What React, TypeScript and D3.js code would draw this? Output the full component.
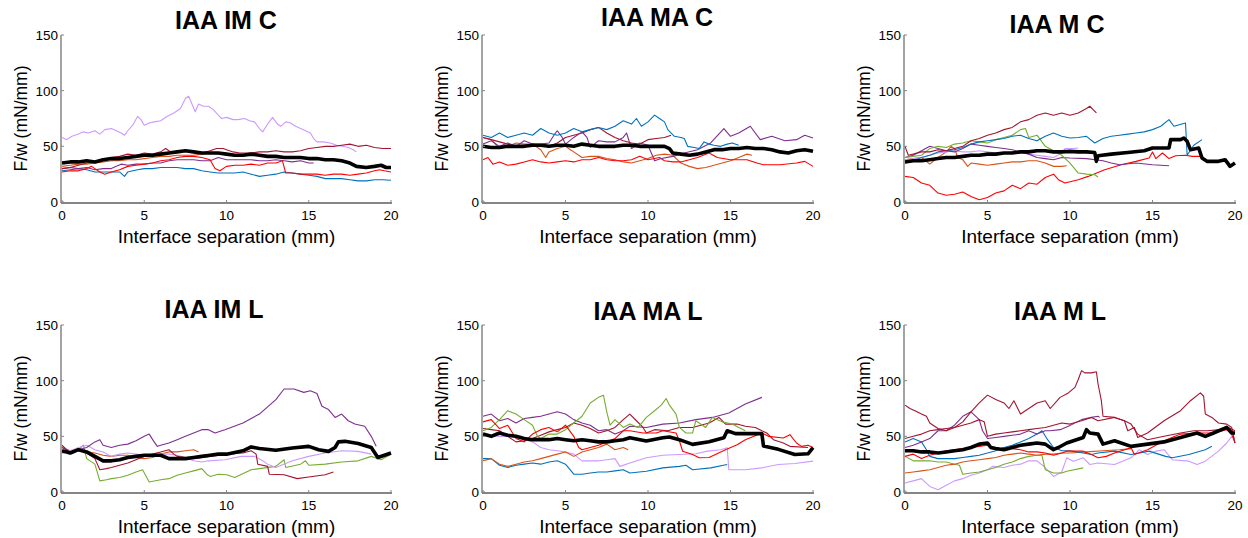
import React from "react";
import * as d3 from "d3";

type Pt = [number, number];

const COLORS: Record<string, string> = {
  blue: "#0072BD",
  orange: "#D95319",
  purple: "#7E2F8E",
  green: "#77AC30",
  darkred: "#A2142F",
  red: "#FF0000",
  violet: "#CC99FF",
};

const xTicks = [0, 5, 10, 15, 20];
const yTicks = [0, 50, 100, 150];
const titles = ["IAA IM C", "IAA MA C", "IAA M C", "IAA IM L", "IAA MA L", "IAA M L"];

// ---- IAA IM C
const imC_violet: Pt[] = [[0,58],[0.3,56],[0.6,59],[1,61],[1.3,63],[1.6,62],[2,64],[2.3,61],[2.6,65],[3,66],[3.3,64],[3.6,62],[3.8,60],[4,64],[4.3,69],[4.6,77],[4.8,74],[5,69],[5.3,71],[5.6,72],[6,73],[6.4,77],[6.8,80],[7.2,84],[7.5,93],[7.7,95],[7.9,88],[8.1,81],[8.3,88],[8.6,86],[8.9,86],[9.2,83],[9.5,78],[9.7,75],[10,76],[10.4,74],[10.7,74],[11.1,75],[11.4,73],[11.7,72],[12,66],[12.2,63],[12.5,70],[12.8,76],[13.1,70],[13.3,68],[13.6,72],[13.9,71],[14.2,68],[14.5,66],[14.8,64],[15.1,62],[15.3,57],[15.5,54],[15.9,54],[16.3,53],[16.7,51],[17.1,50],[17.4,49],[17.7,47],[17.9,45]];
const imC_darkred: Pt[] = [[0,30],[0.5,31],[1,33],[1.5,35],[2,36],[2.5,38],[3,40],[3.5,41],[4,43],[4.5,42],[5,44],[5.5,43],[6,45],[6.3,48],[6.5,46],[6.8,44],[7,45],[7.5,46],[8,45],[8.5,44],[9,46],[9.4,48],[9.8,48],[10,47],[10.4,45],[10.8,44],[11.5,44],[12,45],[12.5,45],[13,46],[13.5,45],[14,45],[14.5,46],[15,48],[15.5,49],[16,50],[16.5,50],[17,51],[17.5,52],[18,50],[18.5,51],[19,49],[19.5,48],[20,48]];
const imC_purple: Pt[] = [[0,30],[0.5,31],[1,30],[1.5,31],[2,29],[2.5,30],[3,30],[3.3,32],[3.6,34],[4,33],[4.5,34],[5,34],[5.5,35],[6,35],[6.5,37],[7,38],[7.5,38],[8,38],[8.5,37],[9,37],[9.5,40],[10,38],[10.5,38],[11,38],[11.5,38],[12,37],[12.5,37],[13,38],[13.5,37],[14,36],[14.5,37],[15,35],[15.3,35]];
const imC_orange: Pt[] = [[0,32],[0.5,33],[1,34],[1.5,34],[2,35],[2.5,36],[3,37],[3.5,37],[4,38],[4.5,38],[5,39],[5.5,40],[6,41],[6.5,41],[7,42],[7.5,42],[8,42],[8.5,43],[9,44],[9.5,43]];
const imC_red: Pt[] = [[0,27],[0.5,28],[1,28],[1.5,30],[1.8,32],[2,30],[2.3,27],[2.6,25],[3,27],[3.5,29],[4,32],[4.5,33],[5,34],[5.5,35],[6,37],[6.5,38],[7,40],[7.5,41],[8,41],[8.5,40],[9,38],[9.3,30],[9.6,28],[10,32],[10.5,33],[11,33],[11.5,34],[12,33],[12.5,35],[13,35],[13.4,37],[13.6,26],[14,26],[14.5,25],[15,25],[15.5,25],[16,24],[16.5,25],[17,25],[17.5,24],[18,25],[18.5,26],[19,28],[19.3,29],[19.6,28],[20,27]];
const imC_blue: Pt[] = [[0,28],[0.5,29],[1,30],[1.5,29],[2,27],[2.5,27],[3,27],[3.5,27],[3.8,23],[4,27],[4.3,28],[4.6,29],[5,30],[5.5,30],[6,31],[6.5,31],[7,31],[7.5,30],[8,30],[8.5,28],[9,27],[9.5,26],[10,26],[10.5,26],[11,27],[11.5,25],[12,23],[12.5,24],[13,25],[13.5,27],[14,26],[14.5,25],[15,24],[15.5,23],[16,21],[16.5,21],[17,21],[17.5,20],[18,19],[18.5,19],[19,20],[19.5,20],[20,19.5]];
const imC_mean: Pt[] = [[0,35],[0.5,36],[1,36],[1.5,37],[2,36],[2.5,38],[3,39],[3.5,39],[4,40],[4.5,41],[5,42],[5.5,42],[6,43],[6.5,44],[7,45],[7.5,46],[8,45],[8.5,44],[9,44],[9.5,44],[10,43],[10.5,42],[11,42],[11.5,43],[12,42],[12.5,41],[13,41],[13.5,40],[14,40],[14.5,40],[15,39],[15.5,39],[16,38],[16.5,38],[17,37],[17.5,35],[17.9,32],[18.5,31],[19,32],[19.4,33],[19.7,31],[20,31]];

// ---- IAA MA C
const maC_blue: Pt[] = [[0,60],[0.5,58],[1,62],[1.5,58],[2,60],[2.5,62],[3,60],[3.5,66],[4,62],[4.5,60],[5,62],[5.5,66],[6,63],[6.5,65],[7,67],[7.5,65],[8,68],[8.5,73],[9,70],[9.3,75],[9.6,68],[10,72],[10.4,78],[10.7,75],[11,72],[11.2,65],[11.6,59],[12,58],[12.2,57],[12.4,50],[12.8,49],[13.1,48],[13.4,54],[13.7,52],[14,51],[14.4,50],[14.8,52],[15.1,53],[15.5,51]];
const maC_purple: Pt[] = [[0,52],[0.5,55],[1,50],[1.5,53],[2,50],[2.5,55],[3,52],[3.5,52],[4,53],[4.3,60],[4.5,64],[4.8,58],[5,52],[5.5,58],[6,63],[6.3,58],[6.5,49],[7,55],[7.5,54],[8,54],[8.5,58],[8.7,62],[9,48],[9.5,53],[10,51],[10.4,37],[10.8,39],[11.5,41],[12.2,44],[13,47],[13.8,53],[14.6,66],[15,59],[15.5,62],[16.2,68],[16.8,56],[17.5,59],[18.3,55],[19,56],[19.5,60],[20,57.5]];
const maC_darkred: Pt[] = [[0,58],[0.5,56],[1,54],[1.5,52],[2,50],[2.5,51],[3,52],[3.5,51],[4,50],[4.5,53],[5,58],[5.5,60],[6,62],[6.5,65],[7,67],[7.5,62],[8,58],[8.5,55],[9,53],[9.5,52],[10,56],[10.5,57],[11,58],[11.4,60]];
const maC_orange: Pt[] = [[0,58],[0.5,56],[1,48],[1.5,50],[2,53],[2.5,52],[3,52],[3.5,47],[3.8,40],[4,45],[4.5,48],[5,50],[5.3,47],[5.5,45],[6,40],[6.5,41],[7,41],[7.5,39],[8,38],[8.5,36],[9,35],[9.5,37],[10,39],[10.5,42],[11,43],[11.5,42],[12,35],[12.5,32],[13,30],[13.5,31],[14,33],[14.5,35],[15,37],[15.5,40],[16,43],[16.3,42]];
const maC_red: Pt[] = [[0,38],[0.3,40],[0.6,34],[1,36],[1.5,33],[2,34],[2.5,36],[3,38],[3.5,36],[4,35],[4.5,36],[5,37],[5.5,36],[6,38],[6.5,38],[7,40],[7.5,38],[8,37],[8.5,37],[9,38],[9.5,41],[10,38],[10.7,40],[11,37],[11.5,36],[12,36],[12.5,38],[13,40],[13.7,44],[14.2,40],[15,38],[16,38],[16.6,35],[17,33.5],[18,33.5],[19,35],[19.5,36.5],[20,32]];
const maC_mean: Pt[] = [[0,50],[0.5,49],[1,49],[1.5,50],[2,50],[2.5,50],[3,51],[3.5,51],[4,50],[4.5,51],[5,51],[5.5,50],[6,52],[6.5,51],[7,50],[7.5,50],[8,50],[8.5,51],[9,51],[9.5,50],[10,50],[10.5,50],[11,50],[11.3,48],[11.5,44],[12,43],[12.5,42],[13,43],[13.5,45],[14,47],[14.5,47],[15,48],[15.5,48],[16,49],[16.5,48],[17,48],[17.5,47],[18,45],[18.5,44],[19,46],[19.5,47],[20,45.5]];

// ---- IAA M C
const mC_darkred: Pt[] = [[0,50],[0.2,42],[0.5,43],[1,45],[1.5,45],[2,47],[2.5,46],[3,48],[3.5,50],[4,55],[4.5,57],[5,60],[5.5,62],[6,65],[6.5,67],[7,72],[7.5,74],[8,78],[8.5,80],[9,78],[9.5,80],[10,78],[10.5,80],[11,84],[11.2,86],[11.4,83],[11.6,80]];
const mC_blue: Pt[] = [[0,35],[0.5,37],[1,40],[1.5,42],[2,45],[2.5,46],[3,47],[3.5,49],[4,52],[4.5,54],[5,55],[5.5,56],[6,57],[6.5,59],[7,60],[7.5,57],[8,55],[8.5,59],[9,62],[9.5,59],[10,57.5],[10.5,58],[11,59],[11.5,53],[12,57],[12.5,59],[13,60],[13.5,61],[14,62],[14.5,63],[15,65],[15.5,68],[16,74],[16.3,68],[17,71],[17.1,42],[17.5,51],[18,56]];
const mC_green: Pt[] = [[0,40],[0.5,41],[1,42],[1.5,48],[2,50],[2.5,49],[3,52],[3.5,53],[4,55],[4.5,54],[5,53],[5.5,56],[6,58],[6.5,60],[7,65],[7.3,66],[7.5,58],[8,60],[8.5,50],[9,46],[9.5,42],[10,35],[10.5,26],[11,25],[11.5,24.5],[11.7,22.5]];
const mC_purple: Pt[] = [[0,40],[0.5,42],[1,46],[1.5,50],[2,48],[2.5,46],[3,45],[3.5,48],[4,52],[4.5,51],[5,50],[5.5,49],[6,48],[6.5,47],[7,45],[7.5,43],[8,40],[8.5,39],[9,38],[9.5,40],[10,39.5],[11,39],[12,37],[12.5,35],[13,33.5],[14,35],[15,33.5],[16,32.5]];
const mC_violet: Pt[] = [[0,38],[0.5,39],[1,40],[1.5,42],[2,44],[2.5,45],[3,46],[3.5,45],[4,45],[4.5,46],[5,45],[5.5,44],[6,44],[6.5,45],[7,45],[7.5,43],[8,42],[8.5,41],[9,40],[9.5,44],[9.7,48],[10.2,48],[10.5,48.5]];
const mC_orange: Pt[] = [[0,38],[0.5,39],[1,40],[1.5,34],[2,40],[2.5,45],[2.8,50],[3,48],[3.2,40],[3.5,38],[3.8,32],[4,35],[4.5,34],[5,33],[5.5,34],[6,35],[6.5,36],[7,36],[7.5,37],[8,37],[8.5,35],[9,32],[9.5,32],[9.8,32.5]];
const mC_red: Pt[] = [[0,23],[0.5,22],[1,17],[1.5,15],[2,8],[2.5,6],[3,7],[3.5,9],[4,5],[4.5,2],[5,4],[5.5,8],[6,10],[6.5,15],[7,12],[7.5,17],[8,16],[8.5,22],[9,25],[9.3,20],[9.7,17],[10.5,20],[11.1,23],[12.1,29],[13.1,33.5],[14,36.5],[14.8,39.5],[15,45],[15.2,39],[15.6,44],[16,39],[16.4,41.5],[17,42],[17.4,41],[18,41]];
const mC_mean: Pt[] = [[0,36],[0.5,37],[1,37],[1.5,38],[2,39],[2.5,40],[3,40],[3.5,41],[4,42],[4.5,42],[5,43],[5.5,43],[6,44],[6.5,44],[7,45],[7.5,45],[8,46],[8.5,46],[9,45],[9.5,45],[10,45.5],[10.5,45],[11,45],[11.5,44.5],[11.6,36.5],[11.7,41.5],[12.5,43],[13.5,44.5],[14.5,46],[15,48.5],[16,48.5],[16.1,56],[16.7,56],[16.9,57.5],[17.1,54.5],[17.3,47],[17.8,48.5],[18,39.5],[18.3,36.5],[19,36.5],[19.4,38],[19.7,32],[20,35]];

// ---- IAA IM L
const imL_purple: Pt[] = [[0,40],[0.5,36],[1,38],[1.5,40],[2,45],[2.3,47],[2.5,42],[3,40],[3.5,42],[4,43],[4.5,46],[5,50],[5.3,52],[5.6,45],[5.8,41],[6,42],[6.5,44],[7,47],[7.5,50],[8,53],[8.5,56],[8.9,56],[9.3,53],[9.9,56],[11,62],[12,70],[13,83],[13.5,92.5],[14.1,92.5],[14.7,89.5],[15.1,91],[15.5,88.5],[15.8,77],[16.2,74],[16.6,67],[17,70],[17.4,64],[17.8,61],[18.4,59],[18.8,50],[19.1,41]];
const imL_violet: Pt[] = [[0,35],[0.5,37],[1,40],[1.5,42],[2,38],[2.5,36],[3,32],[3.5,34],[4,35],[4.5,34],[5,33],[5.5,33],[6,34],[6.5,34],[7,33],[7.5,31],[8,28],[8.5,27],[8.9,28],[9.9,29],[10.9,32],[11.7,32],[12.1,29],[12.5,25],[13,22],[14,28],[15,32],[16,35],[17,37],[18,36.5],[18.8,34]];
const imL_darkred: Pt[] = [[0,42],[0.5,35],[1,38],[1.5,35],[2,30],[2.3,20],[2.7,21],[3,22],[3.5,24],[4,26],[4.5,29],[5,32],[5.5,34],[6,36],[6.5,38],[6.8,34],[7,32],[7.5,31],[8,30],[8.5,31],[9,32],[10,34],[11,35],[11.5,37],[11.8,34],[11.9,25],[12.5,23],[12.6,16],[13.5,15.5],[14.3,12],[15,13.5],[16,15.5],[16.5,18]];
const imL_orange: Pt[] = [[0,40],[0.5,37],[1,38],[1.5,36],[2,35],[2.5,33],[3,32],[3.5,33],[4,33],[4.5,31],[5,30],[5.5,31],[6,34],[6.5,36],[7,36],[7.5,37],[8,38],[8.3,36]];
const imL_green: Pt[] = [[0,35],[0.5,36],[1,38],[1.3,42],[1.5,30],[2,25],[2.3,10],[2.7,11],[3,12],[3.5,13],[4,15],[4.5,18],[4.9,20],[5.3,9],[6,11],[6.5,12],[7,15],[7.5,17],[8,19],[8.5,21],[8.8,16],[9,14],[9.5,16],[10,15.5],[10.5,13],[11.5,20],[13,23],[13.5,29],[13.6,22],[14.5,25],[14.8,28],[15,24],[16,25],[17,27],[18,28],[18.8,32],[19.4,29],[20,34]];
const imL_mean: Pt[] = [[0,37],[0.5,35],[1,38],[1.5,36],[2,32],[2.5,28],[3,28],[3.5,29],[4,31],[4.5,32],[5,33],[5.5,33],[6,33],[6.5,30],[7,30],[7.5,30],[8,31],[8.5,32],[9,33],[9.5,34],[10,34],[11,37],[11.5,40.5],[12,39],[13,37.5],[14,39.5],[15,41],[15.6,38],[16.2,36.5],[16.6,40],[16.8,45],[17.2,45.5],[18,43.5],[18.8,40],[19.2,31],[19.6,33],[20,35]];

// ---- IAA MA L
const maL_green: Pt[] = [[0,55],[0.5,58],[1,65],[1.5,73],[2,70],[2.5,65],[3,60],[3.3,50],[3.5,48],[4,52],[4.5,52],[5,56],[5.5,62],[6,68],[6.5,80],[7,85],[7.3,87],[7.5,72],[7.7,60],[8,65],[8.5,58],[8.9,61],[9.4,58],[9.9,67],[10.4,73],[10.8,78],[11.1,84],[11.3,78],[11.7,70],[11.9,58],[12.3,53],[12.7,53],[12.9,64],[13.5,58],[13.9,67],[14.5,63],[15.1,61],[15.5,58],[15.9,55]];
const maL_purple: Pt[] = [[0,68],[0.5,70],[1,64],[1.5,66],[2,62],[2.5,66],[3,67],[3.5,68],[4,70],[4.5,72],[5,70],[5.5,65],[6,62],[6.5,60],[7,55],[7.5,56],[8,52],[8.5,55],[8.9,59],[9.9,58],[10.9,61],[11.9,62],[12.9,65],[13.9,67],[14.9,71],[15.9,79],[16.9,85]];
const maL_darkred: Pt[] = [[0,57],[0.5,56],[1,55],[1.5,50],[2,45],[2.5,46],[3,48],[3.5,51],[4,54],[4.5,56],[5,58],[5.5,62],[6,60],[6.5,57],[7,53],[7.5,55],[8,58],[8.5,65],[8.9,70],[9.3,64],[9.7,58],[9.9,53],[10.4,56],[11.2,55],[11.9,58],[12.7,58],[13.7,62],[14.3,67],[14.7,61],[15.4,61],[15.9,59],[16.5,58],[16.9,55],[17.2,53],[17.6,47],[18.2,44],[18.6,41],[19.7,40]];
const maL_red: Pt[] = [[0,63],[0.5,65],[1,57],[1.5,60],[2,48],[2.5,45],[3,52],[3.5,56],[4,58],[4.5,54],[5,60],[5.5,50],[5.8,40],[6,38],[6.5,40],[7,42],[7.5,45],[8,48],[8.5,55],[8.9,55],[9.7,53],[10.5,53],[10.9,55],[11.7,53],[11.9,46],[12.1,36.6],[12.7,33.7],[13.1,30.7],[13.7,31],[14.7,38],[15.4,42.5],[15.9,47],[16.9,53],[17.3,50],[18.2,48.5],[18.6,51.5],[19,44],[19.3,41],[19.7,42],[20,40]];
const maL_orange: Pt[] = [[0,28],[0.5,30],[1,25],[1.5,23],[2,25],[2.5,27],[3,28],[3.5,30],[4,32],[4.5,34],[5,36],[5.5,32],[6,36],[6.5,38],[7,40],[7.5,43],[8,38],[8.5,40],[8.8,38]];
const maL_violet: Pt[] = [[0,52],[0.5,51],[1,50],[1.5,50],[2,49],[2.5,47],[3,45],[3.5,40],[4,38],[4.5,37],[5,36],[5.5,34],[6,28],[6.5,28],[7,28],[7.5,29],[8,30],[8.3,23],[8.9,26],[9.9,30.7],[10.9,33],[11.9,33.7],[12.9,34.3],[13.6,36.7],[14.4,38],[14.8,39.8],[14.9,20],[15.9,20],[16.9,21.7],[17.9,24.7],[18.9,25.6],[20,27.7]];
const maL_blue: Pt[] = [[0,30],[0.5,30],[1,24],[1.5,22],[2,24],[2.5,25],[3,26],[3.5,25],[4,27],[4.5,28],[5,25],[5.5,16],[6,16],[6.5,17],[7,18],[7.5,18],[8,19],[8.5,20],[8.9,17],[9.9,18.7],[10.9,21.7],[11.9,23],[12.3,24],[12.7,20],[13.8,21.7],[14.8,24.7]];
const maL_mean: Pt[] = [[0,52],[0.5,50],[1,53],[1.5,51],[2,50],[2.5,48],[3,47],[3.5,47],[4,47],[4.5,48],[5,47],[5.5,46],[6,47],[6.5,46],[7,45],[7.5,45],[8,46],[8.5,47],[8.9,48.8],[9.9,45.8],[10.9,48.8],[11.3,49.4],[11.9,47],[12.7,42.8],[13.7,45.2],[14.6,48.8],[14.8,55],[15.3,52.4],[16.9,52.4],[17,41.3],[17.9,38.3],[18.9,33.7],[19.7,34.3],[20,39.8]];

// ---- IAA M L
const mL_darkredA: Pt[] = [[0,78],[0.3,75],[0.6,73],[1,70],[1.3,68],[1.5,62],[2,57],[2.5,55],[3,58],[3.5,63],[4,72],[4.5,80],[5,87],[5.5,83],[6,80],[6.3,75],[6.6,82],[7,70],[7.5,75],[8,80],[8.5,82],[8.8,75],[9.4,85],[9.9,89],[10.3,94],[10.5,101],[10.7,109],[10.9,107],[11.3,107],[11.6,108],[11.7,97],[11.9,82],[12,68],[12.7,67],[13.3,64],[13.5,55],[13.9,58],[14.1,49],[14.7,53],[15.7,64],[16.7,73],[17.3,82],[17.9,89],[18.1,86],[18.2,70],[18.6,67],[19,62],[19.5,61],[19.8,58],[20,44]];
const mL_darkredB: Pt[] = [[0,48],[0.5,50],[1,52],[1.5,55],[2,56],[2.5,57],[3,58],[3.5,60],[4,62],[4.5,65],[4.8,63],[5,50],[5.5,52],[6,53],[6.5,54],[7,55],[7.5,56],[8,57],[8.5,58],[9,60],[9.5,62],[10,61],[10.7,64],[11.3,67],[11.7,64],[12.7,67],[13.3,64],[13.7,61],[14.1,52],[14.7,47],[15.7,50],[16.7,53],[17.5,55],[18.3,55],[19.1,56],[19.6,58],[20,55]];
const mL_purple: Pt[] = [[0,40],[0.5,42],[1,45],[1.5,48],[2,55],[2.5,55],[3,60],[3.5,68],[4,72],[4.5,65],[4.7,55],[5,48],[5.5,49],[6,50],[6.5,51],[7,52],[7.5,55],[8,52],[8.5,55],[8.8,55],[9.4,56],[9.9,59],[10.7,65],[11.3,67],[11.7,68],[11.8,67]];
const mL_blue: Pt[] = [[0,45],[0.5,48],[1,45],[1.3,38],[1.5,32],[2,30],[2.5,30],[3,30],[3.5,31],[4,32],[4.5,33],[5,35],[5.5,37],[6,40],[6.5,42],[7,45],[7.5,48],[8,52],[8.3,55],[8.6,48],[9,40],[9.5,37],[10,37],[10.8,35],[11.3,33.7],[11.7,35],[12.7,36.7],[13.7,33.7],[14.8,36.7],[15.8,32],[16.2,30.7],[17.2,33.7],[18.2,38],[18.6,41]];
const mL_red: Pt[] = [[0,32],[0.5,34],[1,30],[1.5,33],[2,35],[2.5,37],[3,38],[3.5,39],[4,40],[4.5,41],[5,42],[5.5,38],[6,40],[6.5,39],[7,38],[7.5,36],[8,36],[8.5,35],[9,33],[9.5,35],[9.8,36.7],[10.8,36.7],[11.3,33.7],[11.7,30.7],[12.2,32],[12.7,35],[13.7,39.8],[13.9,33.7],[14.7,38],[15.7,46],[16.7,52],[17.7,53],[18.7,53],[19.5,56],[19.8,52],[20,44]];
const mL_orange: Pt[] = [[0,17],[0.5,18],[1,19],[1.5,20],[2,22],[2.5,24],[3,25],[3.5,27],[4,28],[4.5,29],[5,30],[5.5,31],[6,33],[6.5,34],[7,35],[7.5,34],[8,33],[8.5,34],[9,34],[9.5,35],[10,35],[11,36],[12,37],[13,38],[13.7,39]];
const mL_green: Pt[] = [[0,32],[0.5,28],[1,28],[1.5,28],[2,27],[2.5,27],[3,25],[3.3,24],[3.5,16],[4,17],[4.5,18],[5,20],[5.5,22],[6,25],[6.5,27],[7,30],[7.5,32],[8,33],[8.3,33],[8.5,20],[9,17],[9.5,17],[9.8,18.7],[10.8,21.7]];
const mL_violet: Pt[] = [[0,8],[0.5,10],[1,12],[1.5,5],[2,2],[2.5,6],[3,10],[3.5,12],[4,15],[4.5,17],[5,20],[5.3,23],[6,22],[6.5,24],[7,25],[7.5,28],[8,28],[8.5,22],[9,14],[9.5,18],[9.8,30.7],[10.2,27.7],[10.8,30.7],[11.2,24.7],[11.7,26],[12.7,24.7],[13.7,30.7],[14.2,38],[14.7,33.7],[15.2,36.7],[15.7,38],[16.2,29],[17.2,27.7],[17.7,24.7],[18.2,27.7],[19,36.7],[19.5,44],[19.8,50],[20,48]];
const mL_mean: Pt[] = [[0,37],[0.5,37],[1,36],[1.5,36],[2,35],[2.5,36],[3,37],[3.5,38],[4,40],[4.5,43],[5,44],[5.2,40],[5.5,39],[6,38],[6.5,40],[7,42],[7.5,43],[8,44],[8.5,43],[9,38],[9.3,40],[9.8,44],[10.8,49],[11,56],[11.2,53],[11.7,52],[12,43],[12.7,46],[13.7,41],[14.7,43],[15.7,45],[16.7,49],[17.7,53],[18.2,50],[18.7,53],[19.5,58],[19.8,53],[20,53]];

const panelSeries: [string, Pt[]][][] = [
  [["violet", imC_violet], ["blue", imC_blue], ["orange", imC_orange], ["purple", imC_purple], ["darkred", imC_darkred], ["red", imC_red]],
  [["orange", maC_orange], ["red", maC_red], ["darkred", maC_darkred], ["purple", maC_purple], ["blue", maC_blue]],
  [["red", mC_red], ["orange", mC_orange], ["violet", mC_violet], ["purple", mC_purple], ["green", mC_green], ["blue", mC_blue], ["darkred", mC_darkred]],
  [["green", imL_green], ["orange", imL_orange], ["violet", imL_violet], ["darkred", imL_darkred], ["purple", imL_purple]],
  [["blue", maL_blue], ["violet", maL_violet], ["orange", maL_orange], ["purple", maL_purple], ["darkred", maL_darkred], ["green", maL_green], ["red", maL_red]],
  [["violet", mL_violet], ["green", mL_green], ["orange", mL_orange], ["blue", mL_blue], ["red", mL_red], ["purple", mL_purple], ["darkred", mL_darkredB], ["darkred", mL_darkredA]],
];
const panelMeans: Pt[][] = [imC_mean, maC_mean, mC_mean, imL_mean, maL_mean, mL_mean];

// layout
const colLeft = [62, 483, 905];
const colRight = [391, 813, 1235];
const rowTop = [35, 325];
const rowBottom = [202, 492];
const titlePos: [number, number][] = [[226, 29], [657, 26], [1057, 33], [214, 318], [648, 320], [1060, 320]];

const FONT = "'Liberation Sans', Arial, Helvetica, sans-serif";
const AXIS = "#858585";

function Panel({ i }: { i: number }) {
  const c = i % 3;
  const r = Math.floor(i / 3);
  const x = d3.scaleLinear().domain([0, 20]).range([colLeft[c], colRight[c]]);
  const y = d3.scaleLinear().domain([0, 150]).range([rowBottom[r], rowTop[r]]);
  const line = d3.line<Pt>().x((d) => x(d[0])).y((d) => y(d[1]));
  const x0 = colLeft[c] - 1;
  const yb = rowBottom[r] + 1;
  const cx = (colLeft[c] + colRight[c]) / 2;
  const cy = (rowTop[r] + rowBottom[r]) / 2;
  return (
    <g>
      {panelSeries[i].map(([col, pts], k) => (
        <path key={k} d={line(pts) || ""} fill="none" stroke={COLORS[col]} strokeWidth={1.1} strokeLinejoin="round" />
      ))}
      <path d={line(panelMeans[i]) || ""} fill="none" stroke="#000" strokeWidth={3.6} strokeLinejoin="round" />
      <line x1={x0} x2={x0} y1={y(150)} y2={yb} stroke={AXIS} strokeWidth={1.5} />
      <line x1={x0} x2={colRight[c] + 1} y1={yb} y2={yb} stroke={AXIS} strokeWidth={2} />
      {xTicks.map((t) => (
        <g key={"x" + t}>
          <line x1={x(t)} x2={x(t)} y1={yb} y2={yb - 3} stroke={AXIS} />
          <text x={x(t)} y={yb + 17} textAnchor="middle" fontSize={13.5} fontFamily={FONT} fill="#000">{t}</text>
        </g>
      ))}
      {yTicks.map((t) => (
        <g key={"y" + t}>
          <line x1={x0} x2={x0 + 3} y1={y(t)} y2={y(t)} stroke={AXIS} />
          <text x={x0 - 3} y={y(t) + 5} textAnchor="end" fontSize={13.5} fontFamily={FONT} fill="#000">{t}</text>
        </g>
      ))}
      <text x={cx} y={rowBottom[r] + 41} textAnchor="middle" fontSize={19} fontFamily={FONT} fill="#000">Interface separation (mm)</text>
      <text transform={`translate(${colLeft[c] - 35},${cy}) rotate(-90)`} textAnchor="middle" fontSize={17.5} fontFamily={FONT} fill="#000">F/w (mN/mm)</text>
      <text x={titlePos[i][0]} y={titlePos[i][1]} textAnchor="middle" fontSize={25} fontWeight="bold" fontFamily={FONT} fill="#000">{titles[i]}</text>
    </g>
  );
}

export default function App() {
  return (
    <svg width={1248} height={538} style={{ position: "absolute", left: 0, top: 0, background: "#fff" }}>
      {titles.map((_, i) => <Panel key={i} i={i} />)}
    </svg>
  );
}
